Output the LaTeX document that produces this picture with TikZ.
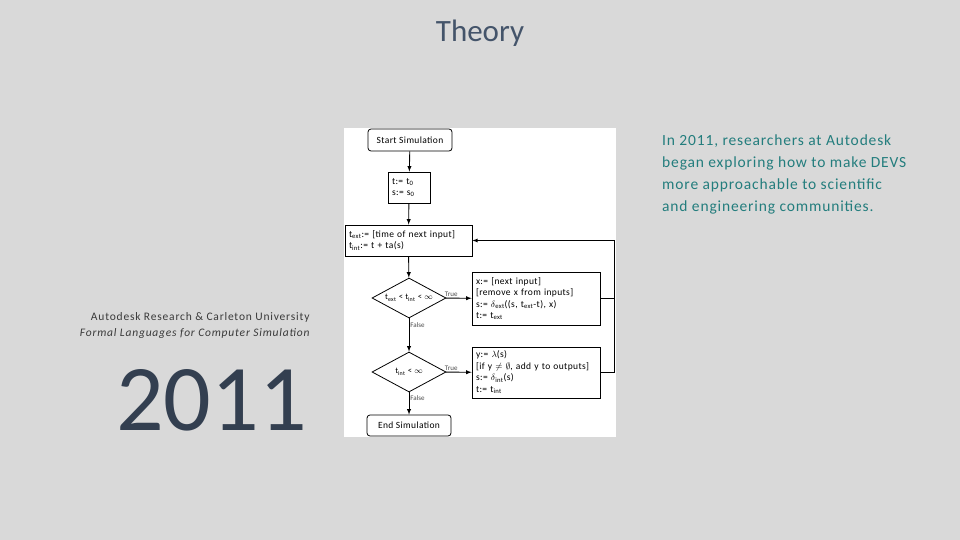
\documentclass[tikz,border=0pt]{standalone}
\usepackage{fontspec}
\setmainfont{Carlito}
\newfontfamily\spacedfont[LetterSpace=7]{Carlito}
\newfontfamily\notefont[LetterSpace=5.5]{Carlito}
\newfontfamily\chartfont[LetterSpace=4]{Carlito}
\usetikzlibrary{shapes.geometric}
\definecolor{slidebg}{HTML}{D9D9D9}
\definecolor{titleink}{HTML}{44546A}
\definecolor{yearink}{HTML}{333F50}
\definecolor{noteink}{HTML}{237D7D}
\definecolor{creditink}{HTML}{3A3A3A}
\begin{document}
\begin{tikzpicture}[x=1pt,y=-1pt,>=latex,
  flowbox/.style={draw,line width=0.8pt,fill=white,align=left,inner xsep=4pt,inner ysep=0pt,font=\chartfont\fontsize{9.5}{11.5}\selectfont},
  term/.style={draw,line width=0.8pt,fill=white,rounded corners=3pt,minimum width=84pt,minimum height=22pt,inner sep=0pt,font=\chartfont\fontsize{9.5}{11}\selectfont},
  decide/.style={diamond,draw,line width=0.8pt,fill=white,aspect=1.85,minimum width=74pt,minimum height=40pt,inner sep=0pt,font=\chartfont\fontsize{8.5}{10}\selectfont},
  flow/.style={->,line width=0.9pt},
  tag/.style={font=\fontsize{7}{8}\selectfont,text=black!70,inner sep=1pt}]
\fill[slidebg] (0,0) rectangle (960,540);
\node[font=\fontsize{31}{31}\selectfont,text=titleink] (title) at (480,33) {Theory};
% left side
\node[anchor=base east,font=\spacedfont\fontsize{11.5}{13}\selectfont,text=creditink] (lab) at (313,320) {Autodesk Research \& Carleton University};
\node[anchor=base east,font=\spacedfont\fontsize{11.5}{13}\selectfont\itshape,text=creditink] (book) at (313,336) {Formal Languages for Computer Simulation};
\node[anchor=base east,font=\fontsize{94}{94}\selectfont,text=yearink,inner sep=0pt] (year) at (307,430) {2011};
% right side
\node[anchor=north west,align=left,font=\notefont\fontsize{15.5}{22}\selectfont,text=noteink,inner sep=0pt] (note) at (662,135) {In 2011, researchers at Autodesk\\began exploring how to make DEVS\\more approachable to scientific\\and engineering communities.};
% flowchart
\fill[white] (344,128) rectangle (616,437);
\node[term] (start) at (410,140) {Start Simulation};
\node[flowbox,text width=34pt,minimum height=31pt] (init) at (409,187.5) {t:= t\textsubscript{0}\\s:= s\textsubscript{0}};
\node[flowbox,text width=119pt,minimum height=31pt] (sched) at (408.5,240.5) {t\textsubscript{ext}:= [time of next input]\\t\textsubscript{int}:= t + ta(s)};
\node[decide] (dext) at (409,298) {t\textsubscript{ext} < t\textsubscript{int} < $\infty$};
\node[flowbox,text width=120pt,minimum height=53pt] (ext) at (536,298.5) {x:= [next input]\\{[}remove x from inputs]\\s:= $\delta$\textsubscript{ext}((s, t\textsubscript{ext}-t), x)\\t:= t\textsubscript{ext}};
\node[decide] (dint) at (409,372) {t\textsubscript{int} < $\infty$};
\node[flowbox,text width=120pt,minimum height=51pt] (int) at (536,372.5) {y:= $\lambda$(s)\\{[}if y $\neq$ $\emptyset$, add y to outputs]\\s:= $\delta$\textsubscript{int}(s)\\t:= t\textsubscript{int}};
\node[term,minimum height=21pt] (end) at (409,425.5) {End Simulation};
\coordinate (loop) at ([xshift=14pt]ext.east);
\draw[flow] (start) -- (init);
\draw[flow] (init) -- (sched);
\draw[flow] (sched) -- (dext);
\draw[flow] (dext) -- node[tag,pos=0.2,above]{True} (ext);
\draw[flow] (dext) -- node[tag,pos=0.2,right]{False} (dint);
\draw[flow] (dint) -- node[tag,pos=0.2,above]{True} (int);
\draw[flow] (dint) -- node[tag,pos=0.25,right]{False} (end);
\draw[line width=0.8pt] (int.east) -| (loop);
\draw[flow,line width=0.8pt] (ext.east) -- (loop) |- (sched.east);
\end{tikzpicture}
\end{document}
